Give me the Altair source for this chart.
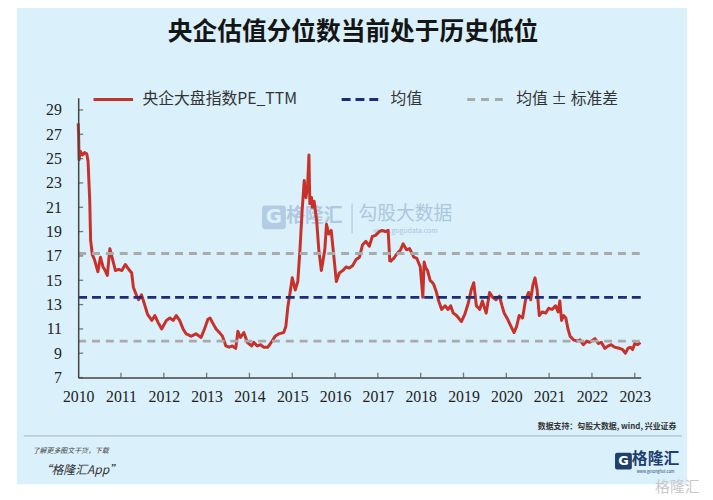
import altair as alt
import pandas as pd

# ---------------- data ----------------
years = [
    2010.00, 2010.01, 2010.02, 2010.05, 2010.10, 2010.15, 2010.20, 2010.23, 2010.27, 2010.29,
    2010.33, 2010.38, 2010.42, 2010.46, 2010.52, 2010.55, 2010.58, 2010.63, 2010.68, 2010.74,
    2010.79, 2010.87, 2010.95, 2011.02, 2011.10, 2011.18, 2011.25, 2011.29, 2011.37, 2011.41,
    2011.48, 2011.56, 2011.62, 2011.72, 2011.79, 2011.87, 2011.95, 2012.06, 2012.14, 2012.22,
    2012.29, 2012.37, 2012.45, 2012.52, 2012.64, 2012.75, 2012.87, 2012.95, 2013.03, 2013.08,
    2013.14, 2013.22, 2013.30, 2013.37, 2013.45, 2013.53, 2013.60, 2013.68, 2013.73, 2013.79,
    2013.87, 2013.95, 2014.05, 2014.10, 2014.18, 2014.26, 2014.33, 2014.43, 2014.53, 2014.60,
    2014.69, 2014.80, 2014.85, 2014.90, 2014.95, 2015.00, 2015.07, 2015.13, 2015.18, 2015.23,
    2015.28, 2015.32, 2015.36, 2015.39, 2015.41, 2015.45, 2015.47, 2015.51, 2015.57, 2015.62,
    2015.68, 2015.76, 2015.80, 2015.85, 2015.91, 2015.95, 2016.03, 2016.10, 2016.18, 2016.26,
    2016.33, 2016.41, 2016.49, 2016.57, 2016.64, 2016.72, 2016.80, 2016.87, 2016.95, 2017.03,
    2017.10, 2017.18, 2017.24, 2017.28, 2017.37, 2017.45, 2017.53, 2017.59, 2017.67, 2017.74,
    2017.84, 2017.91, 2017.99, 2018.05, 2018.08, 2018.12, 2018.16, 2018.22, 2018.30, 2018.37,
    2018.41, 2018.49, 2018.57, 2018.64, 2018.70, 2018.76, 2018.84, 2018.95, 2019.03, 2019.11,
    2019.18, 2019.24, 2019.30, 2019.38, 2019.44, 2019.53, 2019.61, 2019.68, 2019.76, 2019.84,
    2019.90, 2019.95, 2020.03, 2020.11, 2020.18, 2020.24, 2020.30, 2020.38, 2020.45, 2020.52,
    2020.57, 2020.62, 2020.67, 2020.72, 2020.77, 2020.84, 2020.92, 2020.99, 2021.07, 2021.15,
    2021.21, 2021.25, 2021.29, 2021.34, 2021.39, 2021.44, 2021.49, 2021.57, 2021.65, 2021.72,
    2021.80, 2021.88, 2021.95, 2022.07, 2022.15, 2022.22, 2022.30, 2022.38, 2022.45, 2022.53,
    2022.65, 2022.72, 2022.78, 2022.84, 2022.90, 2022.95, 2023.00, 2023.07, 2023.13,
]
pe_ttm = [
    27.9, 27.0, 24.9, 25.6, 25.3, 25.5, 25.4, 24.8, 21.5, 18.3,
    17.1, 16.7, 16.2, 15.7, 16.9, 16.5, 16.1, 15.8, 15.4, 17.6,
    16.9, 15.8, 15.9, 15.8, 16.3, 15.9, 15.6, 14.4, 13.7, 13.4,
    13.8, 12.9, 12.2, 11.7, 12.1, 11.5, 11.0, 11.7, 11.9, 11.7,
    12.1, 11.7, 11.0, 10.6, 10.4, 10.6, 10.3, 11.0, 11.8, 11.9,
    11.5, 11.0, 10.7, 10.4, 9.6, 9.5, 9.6, 9.4, 10.8, 10.3,
    10.7, 9.9, 9.6, 9.9, 9.6, 9.7, 9.5, 9.5, 10.0, 10.4,
    10.6, 10.7, 11.2, 12.9, 14.0, 15.2, 14.2, 14.9, 17.5, 20.7,
    23.2, 21.8, 22.9, 25.3, 21.3, 21.8, 21.0, 21.5, 19.9, 17.5,
    15.8, 17.5, 19.6, 18.8, 19.1, 17.7, 14.9, 15.6, 15.8, 16.1,
    16.0, 16.2, 16.7, 16.9, 17.9, 18.2, 17.8, 18.6, 18.7, 19.0,
    19.1, 19.0, 19.1, 16.5, 16.8, 17.2, 17.5, 18.0, 17.5, 17.6,
    16.9, 16.8, 16.1, 13.6, 16.5, 16.0, 15.8, 15.0, 14.7, 14.0,
    13.4, 12.6, 12.9, 12.6, 12.9, 12.3, 12.1, 11.6, 12.2, 13.1,
    14.2, 14.8, 12.9, 12.6, 13.3, 12.3, 14.0, 13.6, 13.4, 13.7,
    12.9, 12.3, 11.8, 11.2, 10.7, 11.2, 12.1, 11.9, 13.4, 14.0,
    13.4, 14.6, 15.2, 14.2, 12.1, 12.4, 12.3, 12.7, 12.6, 12.9,
    12.4, 13.3, 11.7, 12.1, 11.9, 11.0, 10.4, 10.1, 10.0, 10.1,
    9.7, 10.0, 9.9, 10.2, 9.8, 9.9, 9.4, 9.6, 9.7, 9.5,
    9.4, 9.3, 9.0, 9.4, 9.5, 9.3, 9.8, 9.7, 9.9,
]
mean_value = 13.6
std_value = 3.6
x_range = [2010.0, 2023.14]
y_range = [7, 30]
x_tick_values = list(range(2010, 2024))
y_tick_values = [7, 9, 11, 13, 15, 17, 19, 21, 23, 25, 27, 29]
series_names = ["央企大盘指数PE_TTM", "均值", "均值 ± 标准差"]
series_colors = ["#C8302A", "#1B2C78", "#A8AAAC"]
series_dashes = [[1, 0], [9, 5], [8, 6]]

title_text = "央企估值分位数当前处于历史低位"
source_text = "数据支持：勾股大数据, wind, 兴业证券"

# ---------------- layout ----------------
W, H = 569, 283
OX, OY = 79, 96  # page position of plot origin
BG = "#DAF0FA"

pe_df = pd.DataFrame({"year": years, "value": pe_ttm,
                      "series": series_names[0], "line": "pe"})
ref_rows = []
for name, key, v in [(series_names[1], "mean", mean_value),
                     (series_names[2], "upper", mean_value + std_value),
                     (series_names[2], "lower", mean_value - std_value)]:
    for xx in x_range:
        ref_rows.append({"year": xx, "value": v, "series": name, "line": key})
ref_df = pd.DataFrame(ref_rows)

legend = alt.Legend(
    title=None, orient="none", legendX=14, legendY=-20, direction="horizontal",
    columns=3, symbolType="stroke", symbolSize=1600, symbolStrokeWidth=3,
    labelFont="Noto Sans CJK SC", labelFontSize=16, labelColor="#333333",
    labelOffset=8, columnPadding=38, labelLimit=300,
)
color_enc = alt.Color("series:N", scale=alt.Scale(domain=series_names, range=series_colors),
                      legend=legend)
dash_enc = alt.StrokeDash("series:N", scale=alt.Scale(domain=series_names, range=series_dashes),
                          legend=legend)

x_axis = alt.Axis(values=x_tick_values, format="d", title=None, grid=False,
                  ticks=False, labelFlush=False, labelOverlap=False,
                  labelFont="Liberation Serif", labelFontSize=16,
                  labelColor="#222222", labelPadding=11,
                  domainColor="#444444", domainWidth=1.5, zindex=1)
y_axis = alt.Axis(values=y_tick_values, title=None, grid=False, ticks=False,
                  labelOverlap=False, labelFlush=False,
                  labelFont="Liberation Serif", labelFontSize=16,
                  labelColor="#222222", labelPadding=17,
                  domainColor="#444444", domainWidth=1.5, zindex=1)
x_scale = alt.Scale(domain=x_range, nice=False, zero=False)
y_scale = alt.Scale(domain=y_range, nice=False, zero=False)


def val_chart():
    return alt.Chart(pd.DataFrame({"k": [0]}))


def txt(s, x, y, size, color, weight="normal", align="center", style="normal",
        font="Noto Sans CJK SC", opacity=1.0):
    return alt.Chart(pd.DataFrame({"t": [s]})).mark_text(
        align=align, baseline="middle", fontSize=size, font=font, fontWeight=weight,
        fontStyle=style, color=color, opacity=opacity
    ).encode(x=alt.value(x - OX), y=alt.value(y - OY), text="t:N")


background = val_chart().mark_rect(color=BG).encode(
    x=alt.value(17 - OX), x2=alt.value(695 - OX),
    y=alt.value(4 - OY), y2=alt.value(487 - OY))

wm_color = "#A9C2DD"
watermark = [
    val_chart().mark_rect(color=wm_color, opacity=0.8, cornerRadius=3).encode(
        x=alt.value(265 - OX), x2=alt.value(289 - OX),
        y=alt.value(205 - OY), y2=alt.value(229 - OY)),
    txt("G", 277, 217, 20, BG, weight="bold", font="DejaVu Sans"),
    txt("格隆汇", 318, 216, 19, wm_color, weight="bold", opacity=0.85),
    val_chart().mark_rule(color=wm_color, strokeWidth=1).encode(
        x=alt.value(356 - OX), y=alt.value(203 - OY), y2=alt.value(233 - OY)),
    txt("勾股大数据", 410, 214, 19, wm_color, opacity=0.9),
    txt("www.gogudata.com", 410, 231, 7, wm_color, opacity=0.9),
]

pe_line = alt.Chart(pe_df).mark_line(strokeWidth=3, strokeJoin="round").encode(
    x=alt.X("year:Q", scale=x_scale, axis=x_axis),
    y=alt.Y("value:Q", scale=y_scale, axis=y_axis),
    color=color_enc, strokeDash=dash_enc, detail="line:N")
ref_lines = alt.Chart(ref_df).mark_line(strokeWidth=2.8).encode(
    x=alt.X("year:Q", axis=x_axis), y=alt.Y("value:Q", axis=y_axis),
    color=color_enc, strokeDash=dash_enc, detail="line:N")

x_ticks_df = pd.DataFrame({"year": x_tick_values[1:]})
x_ticks = alt.Chart(x_ticks_df).mark_tick(orient="vertical", size=5, thickness=1.3,
                                          color="#444444").encode(
    x=alt.X("year:Q", axis=x_axis), y=alt.value(H - 2.5))
y_ticks_df = pd.DataFrame({"value": y_tick_values})
y_ticks = alt.Chart(y_ticks_df).mark_tick(orient="horizontal", size=5, thickness=1.3,
                                          color="#444444").encode(
    y=alt.Y("value:Q", axis=y_axis), x=alt.value(2.5))

texts = [
    txt(title_text, 357, 30, 25, "#151515", weight="bold"),
    txt(source_text, 684, 429, 8, "#333333", align="right", weight="bold"),
    val_chart().mark_rule(color="#9FB3BF", strokeWidth=1).encode(
        x=alt.value(24 - OX), x2=alt.value(690 - OX), y=alt.value(438 - OY)),
    txt("了解更多图文干货，下载", 33, 453, 7, "#444444", align="left", style="italic"),
    txt("“格隆汇App”", 40, 473, 12, "#333333", align="left", style="italic"),
    val_chart().mark_rect(color="#1F3F6E", cornerRadius=2).encode(
        x=alt.value(622 - OX), x2=alt.value(639 - OX),
        y=alt.value(455 - OY), y2=alt.value(472 - OY)),
    txt("G", 630.5, 463.5, 13, "#FFFFFF", weight="bold", font="DejaVu Sans"),
    txt("格隆汇", 663, 461, 16, "#1F3F6E", weight="bold"),
    txt("www.gelonghui.com", 663, 475, 4, "#1F3F6E"),
    txt("格隆汇", 685, 490, 15, "#C8C8C8"),
]

chart = alt.layer(
    background, *watermark, pe_line, ref_lines, x_ticks, y_ticks, *texts
).properties(
    width=W, height=H,
    padding={"left": 71, "top": 88, "right": 65, "bottom": 121},
    autosize=alt.AutoSizeParams(type="none"),
    background="#FFFFFF",
).configure_view(stroke=None, fill=None)

chart.save("out.html", embed_options={"renderer": "svg", "actions": False})
